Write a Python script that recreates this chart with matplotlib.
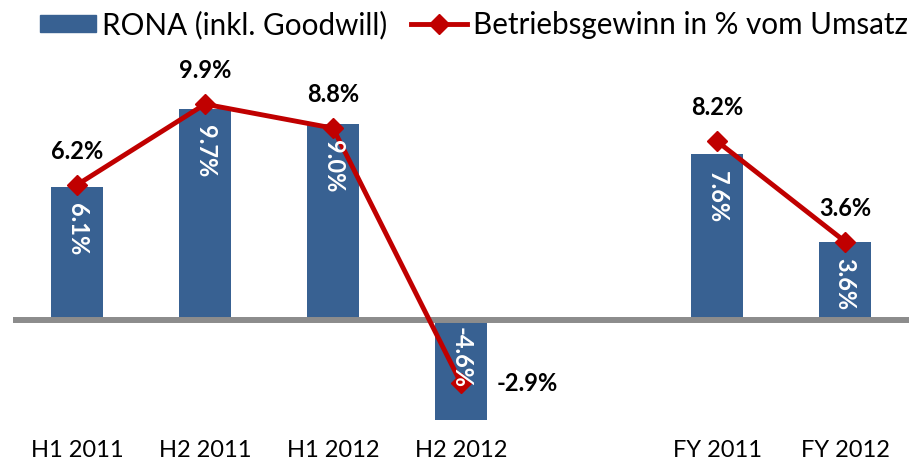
import numpy as np
import matplotlib.pyplot as plt
from matplotlib.patches import Patch
from matplotlib.lines import Line2D

plt.rcParams['font.family'] = ['Liberation Sans Narrow', 'Lato', 'DejaVu Sans']

periods = ["H1 2011", "H2 2011", "H1 2012", "H2 2012", "", "FY 2011", "FY 2012"]
rona = [6.1, 9.7, 9.0, -4.6, np.nan, 7.6, 3.6]
margin = [6.2, 9.9, 8.8, -2.9, np.nan, 8.2, 3.6]

blue = "#386192"
red = "#C00000"

x = np.arange(len(periods))
fig = plt.figure(figsize=(9.12, 4.67), dpi=100)
ax = fig.add_axes([0.0143, 0.0814, 0.9824, 0.7936])

ax.bar(x, np.nan_to_num(rona), width=0.41, color=blue, zorder=2)
ax.axhline(0, color="#8c8c8c", lw=4.3, zorder=3)
ax.plot(x, margin, color=red, lw=3.5, marker="D", ms=10, zorder=4)

# white rotated labels inside the bars
for xi, v in zip(x, rona):
    if np.isnan(v):
        continue
    top = v - 0.75 if v > 0 else -0.3
    ax.text(xi, top, f"{v:.1f}%", rotation=270, color="white", fontsize=17,
            fontweight="bold", ha="center", va="top", zorder=5)

for xi, v in zip(x, margin):
    if np.isnan(v):
        continue
    if v < 0:
        ax.text(xi + 0.52, v, f"{v:.1f}%", fontsize=17, fontweight="bold",
                ha="center", va="center", zorder=5)
    else:
        ax.text(xi, v + 1.0, f"{v:.1f}%", fontsize=17, fontweight="bold",
                ha="center", va="bottom", zorder=5)

ax.set_xlim(-0.5, 6.5)
ax.set_ylim(-5, 12)
ax.set_xticks(x)
ax.set_xticklabels(periods, fontsize=17)
ax.tick_params(axis="x", length=0, pad=8)
ax.set_yticks([])
for s in ax.spines.values():
    s.set_visible(False)

handles = [Patch(color=blue, label="RONA (inkl. Goodwill)"),
           Line2D([], [], color=red, lw=3.5, marker="D", ms=10,
                  label="Betriebsgewinn in % vom Umsatz")]
fig.legend(handles=handles, loc="upper right", bbox_to_anchor=(1.025, 1.035), ncol=2,
           frameon=False, fontsize=21.3, handlelength=1.9, handleheight=0.55,
           handletextpad=0.2, columnspacing=0.8)

fig.savefig("out.png", dpi=100)
